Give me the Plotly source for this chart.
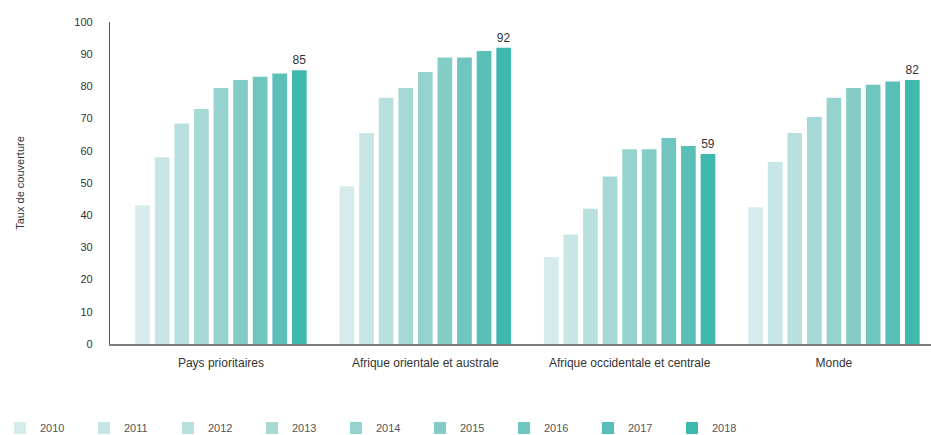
import plotly.graph_objects as go

# Regions shown on the x axis
regions = [
    "Pays prioritaires",
    "Afrique orientale et australe",
    "Afrique occidentale et centrale",
    "Monde",
]

years = ["2010", "2011", "2012", "2013", "2014", "2015", "2016", "2017", "2018"]

# Coverage rate (%) per region, one list per year
cov_2010 = [43, 49, 27, 42.5]
cov_2011 = [58, 65.5, 34, 56.5]
cov_2012 = [68.5, 76.5, 42, 65.5]
cov_2013 = [73, 79.5, 52, 70.5]
cov_2014 = [79.5, 84.5, 60.5, 76.5]
cov_2015 = [82, 89, 60.5, 79.5]
cov_2016 = [83, 89, 64, 80.5]
cov_2017 = [84, 91, 61.5, 81.5]
cov_2018 = [85, 92, 59, 82]

series = [cov_2010, cov_2011, cov_2012, cov_2013, cov_2014,
          cov_2015, cov_2016, cov_2017, cov_2018]

# Light-to-dark teal ramp, one shade per year
colors = ["#d6ecec", "#c7e6e5", "#b8e0de", "#a6d9d6", "#96d3cf",
          "#84ccc6", "#70c5be", "#5abfb6", "#3fb8ad"]

FONT = "Liberation Sans, Arial, sans-serif"

fig = go.Figure()
for i, (yr, vals) in enumerate(zip(years, series)):
    last = i == len(years) - 1
    fig.add_trace(go.Bar(
        name=yr,
        x=regions,
        y=vals,
        marker=dict(color=colors[i], line=dict(width=0)),
        text=[f"{v:g}" for v in vals] if last else None,
        textposition="outside" if last else None,
        textfont=dict(family=FONT, size=12, color="#333333"),
        cliponaxis=False,
        hoverinfo="x+y+name",
    ))

fig.update_layout(
    width=931,
    height=435,
    margin=dict(l=110, r=0, t=22, b=91),
    paper_bgcolor="white",
    plot_bgcolor="white",
    barmode="group",
    bargap=0.137,
    bargroupgap=0.25,
    font=dict(family=FONT, size=11, color="#333333"),
    showlegend=True,
    legend=dict(
        orientation="h",
        x=-0.003,
        xref="container",
        xanchor="left",
        y=0.016,
        yref="container",
        yanchor="middle",
        entrywidth=39,
        entrywidthmode="pixels",
        itemwidth=30,
        font=dict(family=FONT, size=11, color="#555555"),
        traceorder="normal",
    ),
    xaxis=dict(
        range=[-0.543, 3.475],
        showline=True,
        linecolor="#7f7f7f",
        linewidth=1.5,
        ticks="",
        ticklabelstandoff=7,
        showgrid=False,
        tickfont=dict(family=FONT, size=12, color="#333333"),
        zeroline=False,
    ),
    yaxis=dict(
        range=[0, 100],
        tickvals=[0, 10, 20, 30, 40, 50, 60, 70, 80, 90, 100],
        showline=True,
        linecolor="#555555",
        linewidth=1.2,
        ticks="",
        ticklabelstandoff=14,
        showgrid=False,
        zeroline=False,
        tickfont=dict(family=FONT, size=11, color="#333333"),
        title=dict(text="Taux de couverture", standoff=47,
                   font=dict(family=FONT, size=11, color="#333333")),
    ),
)

fig.write_html("out.html")
